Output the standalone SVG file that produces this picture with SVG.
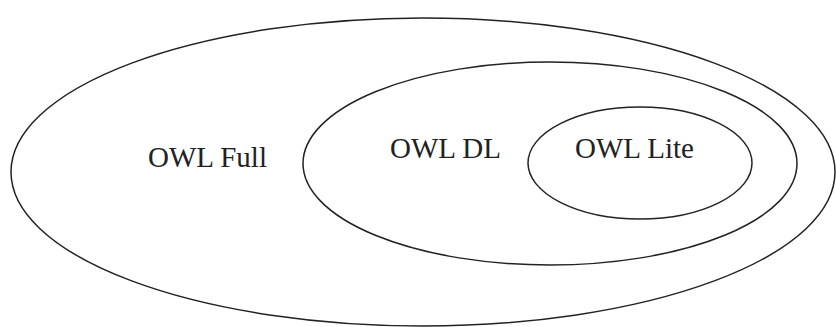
<svg xmlns="http://www.w3.org/2000/svg" width="836" height="327" viewBox="0 0 836 327">
<style>
.e{fill:none;stroke:#222;stroke-width:1.5}
.t{font-family:'Liberation Serif','Times New Roman','DejaVu Serif',serif;font-size:29px;fill:#222}
</style>
<rect width="836" height="327" fill="#fff"/>
<g id="owl-full"><ellipse class="e" cx="423" cy="172" rx="412" ry="154"/><text class="t" x="148" y="167">OWL Full</text></g>
<g id="owl-dl"><ellipse class="e" cx="550" cy="163.5" rx="247" ry="101.5"/><text class="t" x="390" y="158">OWL DL</text></g>
<g id="owl-lite"><ellipse class="e" cx="640" cy="163" rx="112" ry="56"/><text class="t" x="575" y="158">OWL Lite</text></g>
<g id="connectors"/>
</svg>
